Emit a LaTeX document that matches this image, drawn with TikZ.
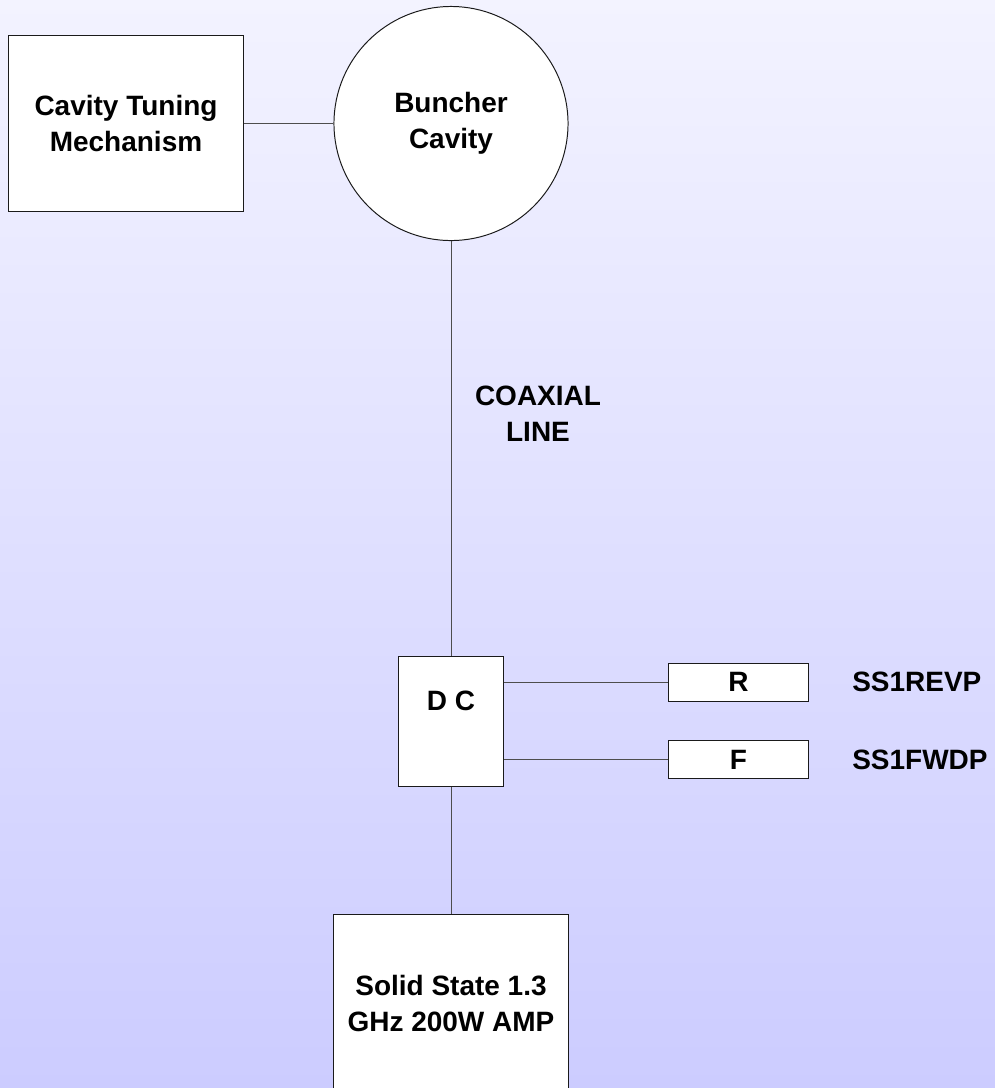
\documentclass[tikz,border=0pt]{standalone}
\usepackage{fontspec}
\setmainfont{Liberation Sans}
\usepackage{xcolor}
\usepackage{tikz}
\definecolor{RFBackTop}{HTML}{F3F3FF}
\definecolor{RFBackBottom}{HTML}{CCCCFF}
\definecolor{RFLine}{HTML}{1A1A1A}
\definecolor{RFLink}{HTML}{4D4D4D}

\begin{document}
\begin{tikzpicture}[x=0.025cm,y=-0.025cm,
  rfbox/.style={draw=RFLine,fill=white,line width=0.7pt,inner sep=0pt,align=center,font=\bfseries\fontsize{19.9}{25.5}\selectfont},
  rfround/.style={rfbox,circle},
  rflink/.style={draw=RFLink,line width=0.7pt},
  rftag/.style={inner sep=0pt,align=center,font=\bfseries\fontsize{19.9}{25.5}\selectfont}]
\path[use as bounding box] (0,0) rectangle (995,1088);
\shade[top color=RFBackTop,bottom color=RFBackBottom] (0,0) rectangle (995,1088);
\node[rfbox,minimum width=5.85cm,minimum height=4.375cm] (tuning) at (126,123.5) {Cavity Tuning\\Mechanism};
\node[rfround,minimum size=5.85cm] (buncher) at (451,123.5) {Buncher\\Cavity};
\node[rfbox,minimum width=2.6cm,minimum height=3.25cm,text depth=1cm] (dc) at (451,721) {D C};
\node[rfbox,minimum width=3.475cm,minimum height=0.95cm] (rev) at (738.5,682) {R};
\node[rfbox,minimum width=3.475cm,minimum height=0.95cm] (fwd) at (738.5,759.5) {F};
\node[rfbox,minimum width=5.85cm,minimum height=4.425cm] (amp) at (451,1003.5) {Solid State 1.3\\GHz 200W AMP};
\node[rftag] (coax) at (538,414) {COAXIAL\\LINE};
\node[rftag,anchor=west] (revtag) at (852,682) {SS1REVP};
\node[rftag,anchor=west] (fwdtag) at (852,760) {SS1FWDP};
\draw[rflink] (tuning.east) -- (buncher.west);
\draw[rflink] (buncher.south) -- (dc.north);
\draw[rflink] (dc.south) -- (amp.north);
\draw[rflink] (dc.east |- rev.west) -- (rev.west);
\draw[rflink] (dc.east |- fwd.west) -- (fwd.west);
\end{tikzpicture}
\end{document}
